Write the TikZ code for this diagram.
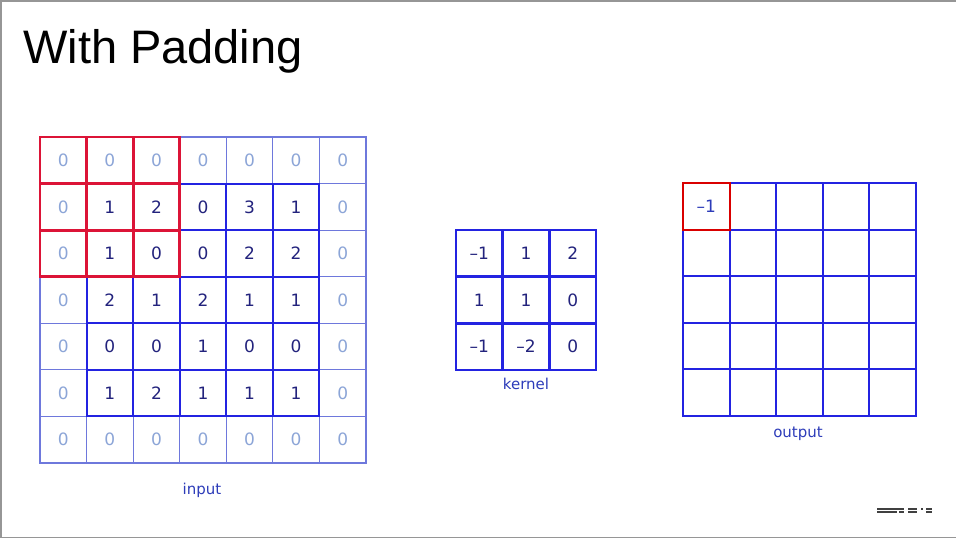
\documentclass[tikz,border=0pt]{standalone}
\usepackage{fontspec}
\setmainfont{DejaVu Sans}
\newfontfamily\titlefont{Liberation Sans}
\definecolor{gridblue}{RGB}{35,35,225}
\definecolor{padblue}{RGB}{110,120,220}
\definecolor{padtext}{RGB}{140,165,215}
\definecolor{numtext}{RGB}{35,35,125}
\definecolor{labelblue}{RGB}{45,60,185}
\definecolor{markred}{RGB}{220,20,55}
\definecolor{framegray}{RGB}{150,150,150}
\begin{document}
\begin{tikzpicture}[x=1pt,y=-1pt,
 padcell/.style={draw=padblue,line width=1.1pt,minimum size=46.6pt,inner sep=0pt,text=padtext,font=\fontsize{17}{19}\selectfont},
 cell/.style={draw=gridblue,fill=white,line width=2pt,minimum size=46.6pt,inner sep=0pt,text=numtext,font=\fontsize{17}{19}\selectfont},
 redcell/.style={draw=markred,line width=2.8pt,minimum size=46.6pt,inner sep=0pt},
 caption/.style={text=labelblue,font=\fontsize{15}{18}\selectfont}]
 \useasboundingbox (0,0) rectangle (956,541);
 \draw[framegray,line width=1.5pt] (956,0.75) -- (0.75,0.75) -- (0.75,537.5) -- (956,537.5);

 \node[anchor=base west,inner sep=0pt,font=\titlefont\fontsize{47}{56}\selectfont] (title) at (23,63) {With Padding};

 \foreach \i in {0,...,6}
  \foreach \j in {0,...,6}
   \node[padcell] (in-\i-\j) at ({40+46.57*(\i+0.5)},{137+46.57*(\j+0.5)}) {0};
 \foreach \row [count=\j] in {{1,2,0,3,1},{1,0,0,2,2},{2,1,2,1,1},{0,0,1,0,0},{1,2,1,1,1}}
  \foreach \v [count=\i] in \row
   \node[cell] (val-\i-\j) at (in-\i-\j) {\v};
 \foreach \i in {0,1,2}
  \foreach \j in {0,1,2}
   \node[redcell] (win-\i-\j) at (in-\i-\j) {};
 \node[caption] (inlabel) at (202,490) {input};

 \foreach \row [count=\j from 0] in {{–1,1,2},{1,1,0},{–1,–2,0}}
  \foreach \v [count=\i from 0] in \row
   \node[cell,line width=2.4pt,minimum size=46.7pt] (k-\i-\j) at ({456+46.67*(\i+0.5)},{230+46.67*(\j+0.5)}) {\v};
 \node[caption] (klabel) at (526,384) {kernel};

 \foreach \i in {0,...,4}
  \foreach \j in {0,...,4}
   \node[cell] (out-\i-\j) at ({683+46.6*(\i+0.5)},{183+46.6*(\j+0.5)}) {};
 \node[redcell,draw=red!85!black,line width=2pt,text=labelblue,font=\fontsize{17}{19}\selectfont] (res) at (out-0-0) {–1};
 \node[caption] (outlabel) at (798,434) {output};

 \draw[black!75,line width=1.1pt] (877,509) -- (904,509) (908,509) -- (917,509) (921,509) -- (923,509) (926,509) -- (932,509);
 \draw[black!75,line width=1.1pt] (877,512) -- (897,512) (899,512) -- (904,512) (908,512) -- (917,512) (926,512) -- (932,512);
\end{tikzpicture}
\end{document}
